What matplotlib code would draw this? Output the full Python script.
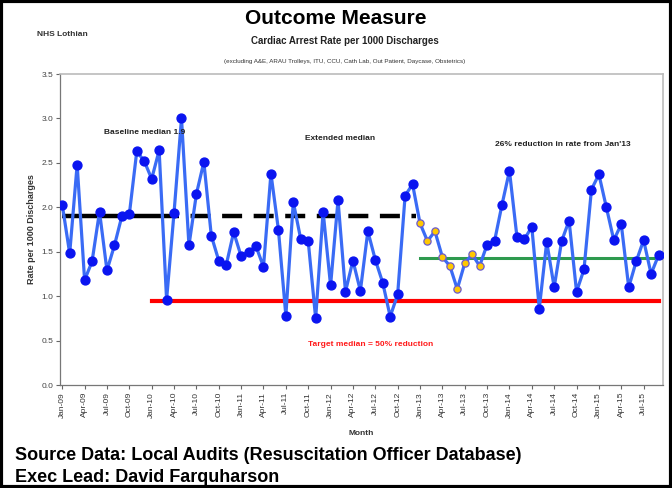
import matplotlib
matplotlib.use("Agg")
import matplotlib.pyplot as plt
import numpy as np
from matplotlib.patches import Rectangle

plt.rcParams['font.family'] = ['Liberation Sans', 'DejaVu Sans']

months = ["Jan", "Feb", "Mar", "Apr", "May", "Jun", "Jul", "Aug", "Sep", "Oct", "Nov", "Dec"]
month_labels = [f"{m}-{y:02d}" for y in range(9, 16) for m in months][:81]

rates = [2.03, 1.48, 2.48, 1.18, 1.39, 1.95, 1.29, 1.57, 1.90, 1.92, 2.63, 2.52,
         2.32, 2.64, 0.96, 1.94, 3.00, 1.57, 2.15, 2.51, 1.68, 1.40, 1.35, 1.72,
         1.45, 1.50, 1.56, 1.33, 2.38, 1.75, 0.78, 2.06, 1.64, 1.62, 0.75, 1.95,
         1.12, 2.08, 1.05, 1.40, 1.06, 1.73, 1.41, 1.15, 0.77, 1.02, 2.13, 2.26,
         1.82, 1.62, 1.73, 1.44, 1.34, 1.08, 1.37, 1.47, 1.34, 1.58, 1.62, 2.03,
         2.41, 1.67, 1.64, 1.78, 0.86, 1.61, 1.10, 1.62, 1.85, 1.05, 1.30, 2.20,
         2.37, 2.00, 1.63, 1.81, 1.10, 1.39, 1.63, 1.25, 1.46]

highlight_start, highlight_end = 48, 56   # Jan-13 .. Sep-13 (yellow markers)

baseline_median = 1.9
baseline_solid = (0, 13)
baseline_dashed = (13, 47.5)
target_median = 0.95
target_range = (12, 80)
new_median = 1.43
new_range = (48, 80.6)

fig = plt.figure(figsize=(6.72, 4.88), dpi=100)
ax = fig.add_axes([60/672, 1-385/488, 603/672, 311/488])

x = np.arange(len(rates))
y = np.array(rates)

ax.plot(baseline_solid, [baseline_median]*2, color='black', lw=3.2, solid_capstyle='butt', zorder=2)
ax.plot(baseline_dashed, [baseline_median]*2, color='black', lw=3.2, dashes=(4.5, 2.6), zorder=2)
ax.plot(target_range, [target_median]*2, color='#FF0000', lw=3, zorder=2)
ax.plot(new_range, [new_median]*2, color='#2E9A4E', lw=2.2, zorder=2)

ax.plot(x, y, color='#3A6BF5', lw=2.3, zorder=3)
mask = np.ones(len(x), bool)
mask[highlight_start:highlight_end+1] = False
ax.plot(x[mask], y[mask], 'o', color='#0A14F0', ms=6.4, zorder=4)
ax.plot(x[~mask], y[~mask], 'o', mfc='#FFC800', mec='#6A5ACD', mew=0.9, ms=5.2, zorder=4)

ax.set_xlim(-0.3, 80.6)
ax.set_ylim(0, 3.5)
ax.set_yticks(np.arange(0, 3.51, 0.5))
ax.set_yticklabels([f"{v:.1f}" for v in np.arange(0, 3.51, 0.5)], fontsize=6, color='#444444')
ax.set_xticks(x[::3])
ax.set_xticklabels(month_labels[::3], rotation=90, fontsize=6, color='#333333')
ax.tick_params(axis='both', length=3, width=0.8, color='#666666', pad=2)

for s in ['top', 'right']:
    ax.spines[s].set_color('#BBBBBB')
    ax.spines[s].set_linewidth(1.2)
for s in ['left', 'bottom']:
    ax.spines[s].set_color('#777777')
    ax.spines[s].set_linewidth(0.9)

ax.set_ylabel("Rate per 1000 Discharges", fontsize=6.5, fontweight='bold', color='#333333', labelpad=4)
ax.set_xlabel("Month", fontsize=6, fontweight='bold', color='#333333', labelpad=9)

ax.text(11, 2.84, "Baseline median 1.9", fontsize=6, fontweight='bold', ha='center', va='center', color='#222222')
ax.text(37.3, 2.77, "Extended median", fontsize=6, fontweight='bold', ha='center', va='center', color='#222222')
ax.text(67.2, 2.71, "26% reduction in rate from Jan'13", fontsize=6, fontweight='bold', ha='center', va='center', color='#222222')
ax.text(41.4, 0.46, "Target median = 50% reduction", fontsize=6, fontweight='bold', ha='center', va='center', color='#FF1A1A')

fig.text(336/672, 1-18/488, "Outcome Measure", fontsize=15, fontweight='bold', ha='center', va='center')
fig.text(37/672, 1-34/488, "NHS Lothian", fontsize=6, fontweight='bold', ha='left', va='center', color='#333333')
fig.text(345/672, 1-41/488, "Cardiac Arrest Rate per 1000 Discharges", fontsize=7, fontweight='bold', ha='center', va='center', color='#222222')
fig.text(345/672, 1-62/488, "(excluding A&E, ARAU Trolleys, ITU, CCU, Cath Lab, Out Patient, Daycase, Obstetrics)",
         fontsize=4.5, ha='center', va='center', color='#333333')

fig.text(15/672, 1-455/488, "Source Data: Local Audits (Resuscitation Officer Database)", fontsize=13, fontweight='bold', ha='left', va='center')
fig.text(15/672, 1-477/488, "Exec Lead: David Farquharson", fontsize=13, fontweight='bold', ha='left', va='center')

fig.patches.append(Rectangle((0.002, 0.002), 0.996, 0.996, transform=fig.transFigure, fill=False, ec='black', lw=3))

fig.savefig("out.png", dpi=100)
